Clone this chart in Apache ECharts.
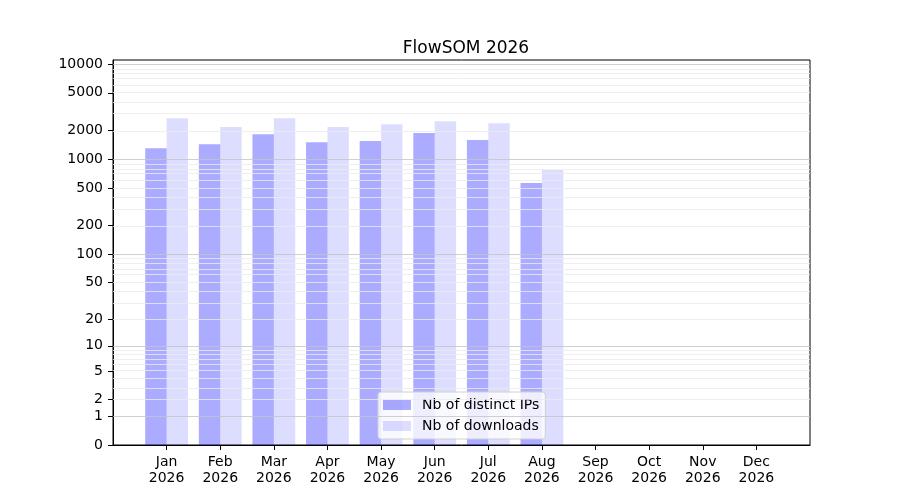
<!DOCTYPE html>
<html>
<head>
<meta charset="utf-8">
<script src="https://cdn.jsdelivr.net/npm/echarts@6/dist/echarts.min.js"></script>
<style>
  html, body { margin: 0; padding: 0; background: #fff; }
  #main { width: 900px; height: 500px; }
</style>
</head>
<body>
<div id="main"></div>
<script>
// month labels on the x axis
var months = ['Jan', 'Feb', 'Mar', 'Apr', 'May', 'Jun', 'Jul', 'Aug', 'Sep', 'Oct', 'Nov', 'Dec'];
var year = '2026';
// values (Jan..Aug)
var distinctIPs = [1310, 1445, 1840, 1517, 1555, 1888, 1593, 563];
var downloads = [2710, 2182, 2710, 2182, 2345, 2522, 2403, 771];
// y tick labels
var yTicks = [0, 1, 2, 5, 10, 20, 50, 100, 200, 500, 1000, 2000, 5000, 10000];
var majorGrid = [1, 10, 100, 1000, 10000];

// axis is log10(1 + x)
function tf(v) { return Math.log10(1 + v); }
function inv(t) { return Math.round(Math.pow(10, t) - 1); }

var minorGrid = [];
[1, 10, 100, 1000].forEach(function (d) {
    for (var k = 2; k <= 9; k++) minorGrid.push(d * k);
});

var font = 'DejaVu Sans';

var gridLines = [];
minorGrid.forEach(function (v) {
    gridLines.push({ yAxis: tf(v), lineStyle: { color: '#ebebeb', width: 0.8, type: 'solid' } });
});
majorGrid.forEach(function (v) {
    gridLines.push({ yAxis: tf(v), lineStyle: { color: '#c4c4c4', width: 0.8, type: 'solid' } });
});

var myChart = echarts.init(document.getElementById('main'));

var option = {
    animation: false,
    backgroundColor: '#fff',
    title: {
        text: 'FlowSOM ' + year,
        left: 461,
        textAlign: 'center',
        top: 35,
        textStyle: { fontFamily: font, fontSize: 17, fontWeight: 'normal', color: '#000' }
    },
    legend: {
        orient: 'vertical',
        left: 378,
        top: 392,
        itemWidth: 28,
        itemHeight: 10,
        itemGap: 7,
        padding: [6, 6, 6, 5],
        backgroundColor: 'rgba(255,255,255,0.8)',
        borderColor: '#d0d0d0',
        borderWidth: 1,
        borderRadius: 3,
        icon: 'rect',
        textStyle: { fontFamily: font, fontSize: 14, color: '#000', padding: [0, 0, 0, 6] },
        data: ['Nb of distinct IPs', 'Nb of downloads']
    },
    grid: {
        left: 113, right: 90, top: 60, bottom: 55,
        show: true, borderColor: '#000', borderWidth: 1, backgroundColor: 'transparent'
    },
    xAxis: {
        type: 'value',
        min: -1,
        max: 12,
        splitLine: { show: false },
        axisLine: { show: true, onZero: false, lineStyle: { color: '#000' } },
        axisTick: { show: true, length: 5, lineStyle: { color: '#000' }, customValues: months.map(function (m, i) { return i; }) },
        axisLabel: {
            customValues: months.map(function (m, i) { return i; }),
            margin: 9,
            fontFamily: font, fontSize: 14, color: '#000', lineHeight: 16,
            formatter: function (v) { return months[v] + '\n' + year; }
        }
    },
    yAxis: {
        type: 'value',
        min: 0,
        max: 4.044,
        splitLine: { show: false },
        axisLine: { show: true, onZero: false, lineStyle: { color: '#000' } },
        axisTick: { show: true, length: 5, lineStyle: { color: '#000' }, customValues: yTicks.map(tf) },
        axisLabel: {
            customValues: yTicks.map(tf),
            margin: 10,
            fontFamily: font, fontSize: 14, color: '#000',
            formatter: function (v) { return String(inv(v)); }
        }
    },
    series: [
        {
            name: 'grid',
            type: 'line',
            z: 1,
            data: [],
            silent: true,
            markLine: { silent: true, symbol: 'none', label: { show: false }, data: gridLines }
        },
        {
            name: 'Nb of distinct IPs',
            type: 'bar',
            z: 2,
            barWidth: 21.4,
            barGap: '0%',
            itemStyle: { color: 'rgba(0,0,255,0.33)' },
            data: distinctIPs.map(function (v, i) { return [i, tf(v)]; })
        },
        {
            name: 'Nb of downloads',
            type: 'bar',
            z: 2,
            barWidth: 21.4,
            barGap: '0%',
            itemStyle: { color: 'rgba(0,0,255,0.135)' },
            data: downloads.map(function (v, i) { return [i, tf(v)]; })
        }
    ]
};

myChart.setOption(option);
</script>
</body>
</html>
